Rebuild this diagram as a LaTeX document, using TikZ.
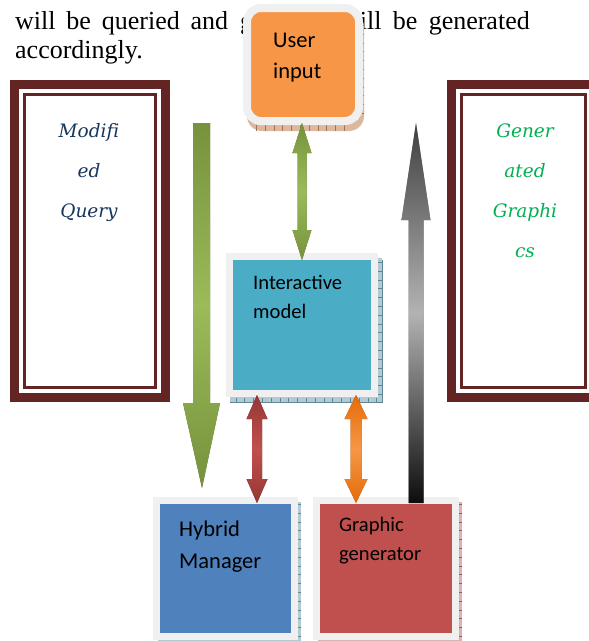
\documentclass[tikz,border=0pt]{standalone}
\usepackage{fontspec}
\setmainfont{Liberation Serif}
\newfontfamily\boxfont{Carlito}
\newfontfamily\labfont{DejaVu Serif}[Ligatures=NoCommon]
\usetikzlibrary{calc}
\definecolor{cFrame}{HTML}{632523}
\definecolor{cPanel}{HTML}{F0F0F0}
\definecolor{cOrange}{HTML}{F79646}
\definecolor{cTeal}{HTML}{4BACC6}
\definecolor{cBlue}{HTML}{4F81BD}
\definecolor{cRed}{HTML}{C0504D}
\definecolor{cNavy}{HTML}{17365D}
\definecolor{cGreen}{HTML}{00B050}
\definecolor{gDark}{HTML}{76923C}
\definecolor{gLight}{HTML}{9BBB59}
\definecolor{gShadow}{HTML}{4F6228}
\definecolor{rDark}{HTML}{953735}
\definecolor{rShadow}{HTML}{632523}
\definecolor{oDark}{HTML}{E36C09}
\definecolor{oShadow}{HTML}{984806}
\definecolor{shTan}{HTML}{DDB89E}
\definecolor{shTanDk}{HTML}{A8714B}
\definecolor{shBlue}{HTML}{B4CAD3}
\definecolor{shBlueDk}{HTML}{5F8796}
\definecolor{shRed}{HTML}{D9B3B2}
\definecolor{shRedDk}{HTML}{9A5A58}
% double-headed vertical block arrow: #1 style, #2 top tip, #3 bottom tip, #4 shaft half, #5 head half, #6 head length
\newcommand\vdouble[6]{%
 \path[#1] let \p1=(#2), \p2=(#3) in
 (\x1,\y1) -- (\x1+#5pt,\y1-#6pt) -- (\x1+#4pt,\y1-#6pt) -- (\x1+#4pt,\y2+#6pt) -- (\x1+#5pt,\y2+#6pt) -- (\x1,\y2)
 -- (\x1-#5pt,\y2+#6pt) -- (\x1-#4pt,\y2+#6pt) -- (\x1-#4pt,\y1-#6pt) -- (\x1-#5pt,\y1-#6pt) -- cycle;}
% downward block arrow: #2 top of shaft, #3 tip
\newcommand\vdown[6]{%
 \path[#1] let \p1=(#2), \p2=(#3) in
 (\x1-#4pt,\y1) -- (\x1+#4pt,\y1) -- (\x1+#4pt,\y2+#6pt) -- (\x1+#5pt,\y2+#6pt) -- (\x2,\y2)
 -- (\x1-#5pt,\y2+#6pt) -- (\x1-#4pt,\y2+#6pt) -- cycle;}
% upward block arrow: #2 tip, #3 bottom of shaft
\newcommand\vup[6]{%
 \path[#1] let \p1=(#2), \p2=(#3) in
 (\x1,\y1) -- (\x1+#5pt,\y1-#6pt) -- (\x1+#4pt,\y1-#6pt) -- (\x1+#4pt,\y2) -- (\x1-#4pt,\y2)
 -- (\x1-#4pt,\y1-#6pt) -- (\x1-#5pt,\y1-#6pt) -- cycle;}
\begin{document}
\begin{tikzpicture}[x=1pt,y=-1pt,
  toptext/.style={font=\fontsize{26}{30}\selectfont, inner sep=0pt, text=black},
  bigtxt/.style={font=\boxfont\fontsize{22.5}{31.6}\selectfont, inner sep=0pt, align=left, anchor=base west, text=black},
  smalltxt/.style={font=\boxfont\fontsize{20.6}{28.5}\selectfont, inner sep=0pt, align=left, anchor=base west, text=black},
  sidetxt/.style={font=\labfont\itshape\fontsize{18.5}{40}\selectfont, inner sep=0pt, align=center, anchor=base},
  panel/.style={draw=cPanel, line width=7pt, inner sep=0pt},
  ticks/.style={line width=#1, dash pattern=on 0.8pt off 8pt},
]
\useasboundingbox (0,0) rectangle (589,641);
\fill[white] (0,0) rectangle (589,641);

% paragraph text above the diagram
\node[toptext, anchor=base west] (t1) at (15,29) {\makebox[213pt][s]{will be queried and}};
\node[toptext, anchor=base west] (t1g) at (240,29) {g};
\node[toptext, anchor=base east] (t2) at (530,29) {\makebox[170pt][s]{ill be generated}};
\node[toptext, anchor=base west] (t3) at (15,58) {accordingly.};

% side frames
\node[draw=cFrame, line width=9pt, minimum width=151pt, minimum height=313pt, inner sep=0pt] (mq) at (90,241) {};
\node[draw=cFrame, line width=3pt, minimum width=131pt, minimum height=293pt, inner sep=0pt] (mqin) at (mq.center) {};
\node[sidetxt, text=cNavy] (mqt) at (89,217) {Modifi\\ed\\Query};

\node[draw=cFrame, line width=9pt, minimum width=144pt, minimum height=313pt, inner sep=0pt] (gg) at (523.5,241) {};
\node[draw=cFrame, line width=3pt, minimum width=124pt, minimum height=293pt, inner sep=0pt] (ggin) at (523.5,241) {};
\node[sidetxt, text=cGreen] (ggt) at (525,257) {Gener\\ated\\Graphi\\cs};

% shadows of the boxes
\fill[shTan, rounded corners=15pt] (247,12) rectangle (364,131);
\draw[shTanDk, ticks=6pt] (256,127.5) -- (352,127.5);
\draw[shTanDk, ticks=3pt] (362.5,25) -- (362.5,115);
\fill[shBlue] (230,258) rectangle (382,402);
\draw[shBlueDk, line width=0.6pt] (382,260) -- (382,402) -- (230,402);
\draw[shBlueDk, ticks=4pt] (380,262) -- (380,400) -- (232,400);
\fill[shBlue] (158,502) rectangle (301,650);
\draw[shBlueDk, ticks=3pt] (299.5,504) -- (299.5,650);
\fill[shRed] (318,502) rectangle (462,650);
\draw[shRedDk, ticks=3pt] (460.5,504) -- (460.5,650);

% boxes
\node[panel, fill=cOrange, rounded corners=14pt, line width=8pt, minimum width=112pt, minimum height=113pt] (ui) at (303,64.5) {};
\node[bigtxt] (uit) at (273,78.6) {User\\input};

\node[panel, fill=cTeal, minimum width=145pt, minimum height=137pt] (im) at (302,325) {};
\node[smalltxt] (imt) at (253,318) {Interactive\\model};

\node[panel, fill=cBlue, minimum width=138pt, minimum height=136pt] (hm) at (225.5,568.5) {};
\node[bigtxt] (hmt) at (179,568) {Hybrid\\Manager};

\node[panel, fill=cRed, minimum width=139pt, minimum height=136pt] (gr) at (386,568.5) {};
\node[smalltxt] (grt) at (339,560) {Graphic\\generator};

% connector end points
\coordinate (qtop) at (201.5,123);
\coordinate (qtip) at (202,488);
\coordinate (gtip) at (416,123);
\coordinate (gbot) at (416,503);
\coordinate (ua) at (302,123);
\coordinate (ub) at (302,260);
\coordinate (ra) at (257,395);
\coordinate (rb) at (257,503);
\coordinate (oa) at (356,395);
\coordinate (ob) at (356,503);

% Modified Query -> Hybrid Manager
\vdown{fill=gShadow, xshift=3pt, yshift=-2pt}{qtop}{qtip}{8.5}{18.5}{85}
\vdown{top color=gDark, bottom color=gDark, middle color=gLight}{qtop}{qtip}{8.5}{18.5}{85}
% Graphic generator -> Generated Graphics
\vup{fill=black!50, xshift=3pt, yshift=-2pt}{gtip}{gbot}{7.5}{14.5}{97}
\vup{top color=black!75, bottom color=black!95, middle color=black!30}{gtip}{gbot}{7.5}{14.5}{97}
% User input <-> Interactive model
\vdouble{fill=gShadow, xshift=3pt, yshift=-2pt}{ua}{ub}{4.5}{9.5}{30}
\vdouble{top color=gDark, bottom color=gDark, middle color=gLight}{ua}{ub}{4.5}{9.5}{30}
% Interactive model <-> Hybrid Manager
\vdouble{fill=rShadow, xshift=3pt, yshift=-2pt}{ra}{rb}{5}{10.5}{24}
\vdouble{top color=rDark, bottom color=rDark, middle color=cRed}{ra}{rb}{5}{10.5}{24}
% Interactive model <-> Graphic generator
\vdouble{fill=oShadow, xshift=3pt, yshift=-2pt}{oa}{ob}{5.5}{11.5}{24}
\vdouble{top color=oDark, bottom color=oDark, middle color=cOrange}{oa}{ob}{5.5}{11.5}{24}
\end{tikzpicture}
\end{document}
